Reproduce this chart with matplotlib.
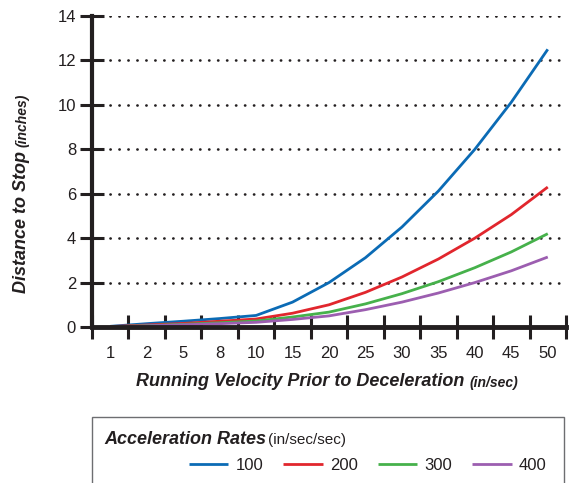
import matplotlib.pyplot as plt
from matplotlib.patches import Rectangle
from matplotlib.ticker import FixedLocator, FixedFormatter, NullFormatter

# running velocity categories (in/sec)
velocities = ["1", "2", "5", "8", "10", "15", "20", "25", "30", "35", "40", "45", "50"]

# distance to stop (inches) for each acceleration rate (in/sec/sec)
dist_100 = [0.03, 0.15, 0.26, 0.38, 0.52, 1.12, 2.0, 3.12, 4.5, 6.12, 8.0, 10.12, 12.5]
dist_200 = [0.02, 0.09, 0.16, 0.26, 0.36, 0.62, 1.0, 1.56, 2.25, 3.06, 4.0, 5.06, 6.3]
dist_300 = [0.01, 0.06, 0.12, 0.19, 0.27, 0.45, 0.67, 1.04, 1.5, 2.04, 2.67, 3.38, 4.2]
dist_400 = [0.01, 0.05, 0.1, 0.15, 0.21, 0.34, 0.5, 0.78, 1.12, 1.53, 2.0, 2.53, 3.15]

rates = ["100", "200", "300", "400"]
colors = ["#0b6bb5", "#e1262d", "#46b14b", "#9c5eb0"]

ink = "#231f20"
narrow = ["Liberation Sans Narrow", "Liberation Sans", "DejaVu Sans"]
plt.rcParams["font.family"] = narrow

W, H = 569, 483
fig = plt.figure(figsize=(W / 100, H / 100), dpi=100)
ax = fig.add_axes([92 / W, 1 - 327 / H, (566 - 92) / W, (327 - 16) / H])

x = list(range(len(velocities)))
lines = []
for series, c in zip([dist_100, dist_200, dist_300, dist_400], colors):
    ln, = ax.plot(x, series, color=c, lw=2.0, solid_capstyle="butt", zorder=3)
    lines.append(ln)

ax.set_xlim(-0.5, len(velocities) - 0.5)
ax.set_ylim(0, 14)

# category boundaries carry the tick marks, labels sit in the middle
ax.xaxis.set_major_locator(FixedLocator([i - 0.5 for i in range(len(velocities) + 1)]))
ax.xaxis.set_major_formatter(NullFormatter())
ax.xaxis.set_minor_locator(FixedLocator(x))
ax.xaxis.set_minor_formatter(FixedFormatter(velocities))
ax.tick_params(axis="x", which="major", direction="inout", length=17, width=2.2, color=ink)
ax.tick_params(axis="x", which="minor", length=0, pad=14, labelsize=12, labelcolor=ink)

ax.set_yticks(range(0, 15, 2))
ax.tick_params(axis="y", direction="inout", length=17, width=2.2, color=ink,
               pad=3, labelsize=12, labelcolor=ink)

ax.grid(axis="y", color=ink, lw=1.9, linestyle=(0, (0.1, 3.3)))
ax.grid(axis="x", visible=False)
for gl in ax.get_ygridlines():
    gl.set_dash_capstyle("round")
ax.set_axisbelow(True)

for side in ["top", "right"]:
    ax.spines[side].set_visible(False)
ax.spines["left"].set_linewidth(3)
ax.spines["bottom"].set_linewidth(3.5)
ax.spines["left"].set_color(ink)
ax.spines["bottom"].set_color(ink)
ax.spines["left"].set_zorder(4)
ax.spines["bottom"].set_zorder(4)

# axis titles: bold italic with a smaller unit suffix
fig.text(136 / W, 1 - 382 / H, "Running Velocity Prior to Deceleration", ha="left", va="center",
         fontsize=13, fontweight="bold", style="italic", color=ink)
fig.text(469 / W, 1 - 383 / H, "(in/sec)", ha="left", va="center",
         fontsize=10, fontweight="bold", style="italic", color=ink)
fig.text(22 / W, 1 - 293 / H, "Distance to Stop", ha="center", va="bottom", rotation=90,
         fontsize=13, fontweight="bold", style="italic", color=ink)
fig.text(23 / W, 1 - 147 / H, "(inches)", ha="center", va="bottom", rotation=90,
         fontsize=10, fontweight="bold", style="italic", color=ink)

# legend panel
fig.patches.append(Rectangle((92 / W, -0.05), (564 - 92) / W, 0.05 + 66 / H,
                             transform=fig.transFigure, fill=False, ec="#6d6e71", lw=1.0))
fig.text(104 / W, 1 - 440 / H, "Acceleration Rates", ha="left", va="center",
         fontsize=13, fontweight="bold", style="italic", color=ink)
fig.text(268 / W, 1 - 440 / H, "(in/sec/sec)", ha="left", va="center", fontsize=11, color=ink)
fig.legend(lines, rates, ncol=4, loc="center left", bbox_to_anchor=(189 / W, 1 - 465 / H),
           frameon=False, fontsize=12, handlelength=2.35, handletextpad=0.45,
           columnspacing=1.2, borderpad=0, borderaxespad=0, labelcolor=ink)

fig.savefig("out.png", dpi=100)
